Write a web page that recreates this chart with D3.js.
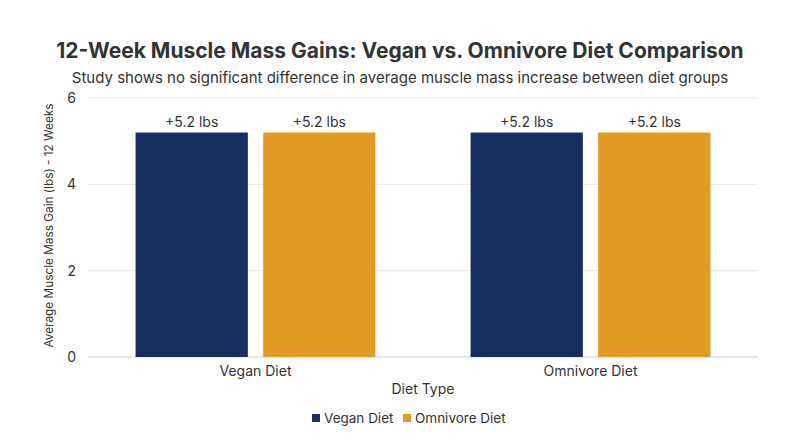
<!DOCTYPE html>
<html>
<head>
<meta charset="utf-8">
<script src="https://cdn.jsdelivr.net/npm/d3@7"></script>
<style>
  body { margin: 0; background: #fff; font-family: Inter, Roboto, "Noto Sans", sans-serif; }
  svg text { fill: #333; }
</style>
</head>
<body>
<div id="vis"></div>
<script>
// data
var categories = ["Vegan Diet", "Omnivore Diet"];
var seriesNames = ["Vegan Diet", "Omnivore Diet"];
var vegan = [5.2, 5.2];
var omnivore = [5.2, 5.2];
var valueLabels = ["+5.2 lbs", "+5.2 lbs"];
var yTicks = [0, 2, 4, 6];
var colors = ["#15305f", "#e39a22"];

var width = 800, height = 447;
var margin = { top: 98, right: 42, bottom: 90, left: 88 };
var innerW = width - margin.left - margin.right;
var innerH = height - margin.top - margin.bottom;

var svg = d3.select("#vis").append("svg")
    .attr("width", width).attr("height", height);

svg.append("text")
    .attr("x", width / 2).attr("y", 58)
    .attr("text-anchor", "middle")
    .style("font-size", "21px").style("font-weight", "700")
    .text("12-Week Muscle Mass Gains: Vegan vs. Omnivore Diet Comparison");

svg.append("text")
    .attr("x", width / 2).attr("y", 83)
    .attr("text-anchor", "middle")
    .style("font-size", "15px")
    .text("Study shows no significant difference in average muscle mass increase between diet groups");

var g = svg.append("g").attr("transform", "translate(" + margin.left + "," + margin.top + ")");

var x0 = d3.scaleBand().domain(categories).range([0, innerW]).paddingInner(0.284).paddingOuter(0.142);
var x1 = d3.scaleBand().domain(seriesNames).range([0, x0.bandwidth()]).paddingInner(0.12);
var y = d3.scaleLinear().domain([0, 6]).range([innerH, 0]);

// grid
g.selectAll(".grid").data(yTicks).enter().append("line")
    .attr("x1", 0).attr("x2", innerW)
    .attr("y1", function(d) { return y(d); })
    .attr("y2", function(d) { return y(d); })
    .attr("stroke", function(d) { return d === 0 ? "#ccc" : "#e6e6e6"; })
    .attr("stroke-width", 1);

g.selectAll(".ytick").data(yTicks).enter().append("text")
    .attr("x", -12).attr("y", function(d) { return y(d) + 5; })
    .attr("text-anchor", "end")
    .style("font-size", "14px")
    .text(function(d) { return d; });

var seriesData = [vegan, omnivore];
var rows = [];
categories.forEach(function(c, i) {
    seriesNames.forEach(function(s, j) {
        rows.push({ cat: c, series: s, value: seriesData[j][i], label: valueLabels[i], color: colors[j] });
    });
});

g.selectAll(".bar").data(rows).enter().append("rect")
    .attr("x", function(d) { return x0(d.cat) + x1(d.series); })
    .attr("y", function(d) { return y(d.value); })
    .attr("width", x1.bandwidth())
    .attr("height", function(d) { return innerH - y(d.value); })
    .attr("fill", function(d) { return d.color; });

g.selectAll(".vlabel").data(rows).enter().append("text")
    .attr("x", function(d) { return x0(d.cat) + x1(d.series) + x1.bandwidth() / 2; })
    .attr("y", function(d) { return y(d.value) - 6; })
    .attr("text-anchor", "middle")
    .style("font-size", "14px")
    .text(function(d) { return d.label; });

g.selectAll(".xlabel").data(categories).enter().append("text")
    .attr("x", function(d) { return x0(d) + x0.bandwidth() / 2; })
    .attr("y", innerH + 19)
    .attr("text-anchor", "middle")
    .style("font-size", "14px")
    .text(function(d) { return d; });

g.append("text")
    .attr("x", innerW / 2).attr("y", innerH + 37)
    .attr("text-anchor", "middle")
    .style("font-size", "14px")
    .text("Diet Type");

svg.append("text")
    .attr("transform", "translate(53," + (margin.top + innerH / 2 - 2) + ") rotate(-90)")
    .attr("text-anchor", "middle")
    .style("font-size", "11.8px")
    .text("Average Muscle Mass Gain (lbs) - 12 Weeks");

// legend
var legend = svg.append("g").attr("transform", "translate(312,418)");
var lx = [0, 91];
seriesNames.forEach(function(s, i) {
    legend.append("rect").attr("x", lx[i]).attr("y", -4).attr("width", 8).attr("height", 8).attr("fill", colors[i]);
    legend.append("text").attr("x", lx[i] + 12).attr("y", 5).style("font-size", "13.5px").text(s);
});
</script>
</body>
</html>
